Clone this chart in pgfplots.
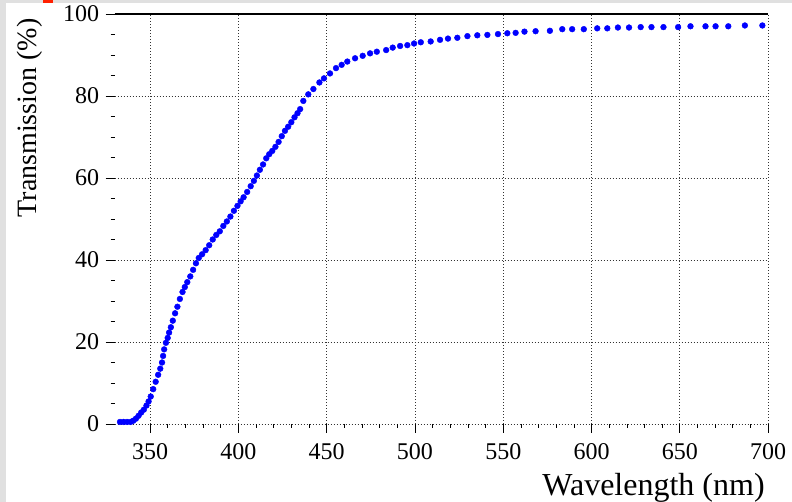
\documentclass[border=0pt]{standalone}
\usepackage{fontspec}
\setmainfont{Liberation Serif}
\usepackage{pgfplots}
\pgfplotsset{compat=1.18}

\begin{document}
\begin{tikzpicture}
% page frame: 792 x 502, axis box lower left at (0,0)
\path[use as bounding box] (-114.7pt,-78pt) rectangle (677.3pt,424pt);
\fill[black!12] (-114.7pt,-78pt) rectangle (677.3pt,424pt);
\fill[white] (-108.7pt,-78pt) rectangle (677.3pt,421pt);
\fill[red!75!orange] (-72pt,421pt) rectangle (-62pt,424pt);
\begin{axis}[
  at={(0,0)}, anchor=south west,
  scale only axis,
  width=653.5pt, height=410pt,
  xmin=330, xmax=700, ymin=0, ymax=100,
  xtick={350,400,...,700}, ytick={0,20,...,100},
  minor x tick num=4, minor y tick num=3,
  xtick pos=bottom, ytick pos=left,
  tick align=outside,
  major tick length=9pt, minor tick length=4pt,
  every tick/.style={black, line width=0.8pt},
  axis line style={draw=none},
  grid=major,
  major grid style={black!80, line width=0.9pt, dash pattern=on 1pt off 2pt},
  /pgf/number format/assume math mode=true,
  ticklabel style={font=\fontsize{24}{28}\selectfont},
  xticklabel style={yshift=-7pt},
  yticklabel style={xshift=-3pt},
  xlabel={Wavelength (nm)},
  ylabel={Transmission (\%)},
  xlabel style={font=\fontsize{32}{36}\selectfont, at={(rel axis cs:1,-0.1732)}, anchor=base east},
  ylabel style={font=\fontsize{28}{32}\selectfont, at={(rel axis cs:-0.1189,0.9976)}, anchor=base east},
  clip=false,
]
\addplot[only marks, mark=*, mark size=2.9pt, color=blue, mark options={fill=blue, draw=blue}] coordinates {
(333,0.5) (335,0.5) (337,0.5) (339,0.5) (340.5,0.8) (342,1.3) (343.5,2) (345,2.8)
(346.5,3.5) (348,4.5) (349.2,5.5) (350.4,6.7) (351.8,8.5) (353.2,10.3) (354.6,12)
(355.8,13.5) (356.8,15) (357.4,16.6) (358,18.2) (359,19.8) (360,21) (360.8,22.3)
(361.8,23.6) (362.9,25.2) (364.2,27) (365.5,28.6) (366.9,30.5) (368.4,32.2)
(369.7,33.4) (371.1,34.6) (372.8,36) (374.4,37.6) (376,39.2) (377.6,40.5)
(379.5,41.4) (381.5,42.4) (383.5,43.6) (385.5,45) (387.5,46.1) (389.5,47)
(391.5,48.3) (393.5,49.4) (395.5,50.6) (397.5,52) (399.5,53.2) (401.3,54.3)
(403,55.3) (405,56.6) (407,58) (408.8,59.3) (410.5,60.6) (412.2,62) (414,63.3)
(415.8,64.8) (417.5,65.8) (419.2,66.6) (421,67.6) (422.8,68.8) (424.6,70.2)
(426.4,71.5) (428.2,72.5) (430,73.6) (431.8,74.8) (433.5,75.8) (435,76.8)
(436.8,78.8) (439.6,80.4) (442.5,81.7) (445.9,83.3) (448.5,84.3) (451.9,85.5)
(455.3,86.8) (458.5,87.6) (461.7,88.4) (466.1,89.2) (470.4,89.8) (474.6,90.4)
(478.4,90.8) (483.7,91.2) (487.4,91.8) (491.6,92.2) (495.7,92.4) (499.5,92.8)
(503.3,93.1) (508.9,93.3) (514.2,93.7) (518.7,94) (524,94.2) (529.7,94.6)
(535.3,94.8) (541,94.9) (547,95.1) (552.3,95.3) (557,95.4) (562,95.7)
(568.3,95.8) (576.4,95.9) (583.4,96.3) (589,96.3) (595.6,96.3) (603.2,96.5)
(608.9,96.5) (614.9,96.7) (621.2,96.7) (627.8,96.8) (633.9,96.8) (640.7,96.8)
(649,96.8) (656,97) (664.5,97) (670.2,97) (677.4,97) (686.8,97.2) (696.7,97.2)
};
% solid frame line along the top
\draw[black, line width=1.2pt] (rel axis cs:0,1) -- (rel axis cs:1,1);
\end{axis}
\end{tikzpicture}
\end{document}
